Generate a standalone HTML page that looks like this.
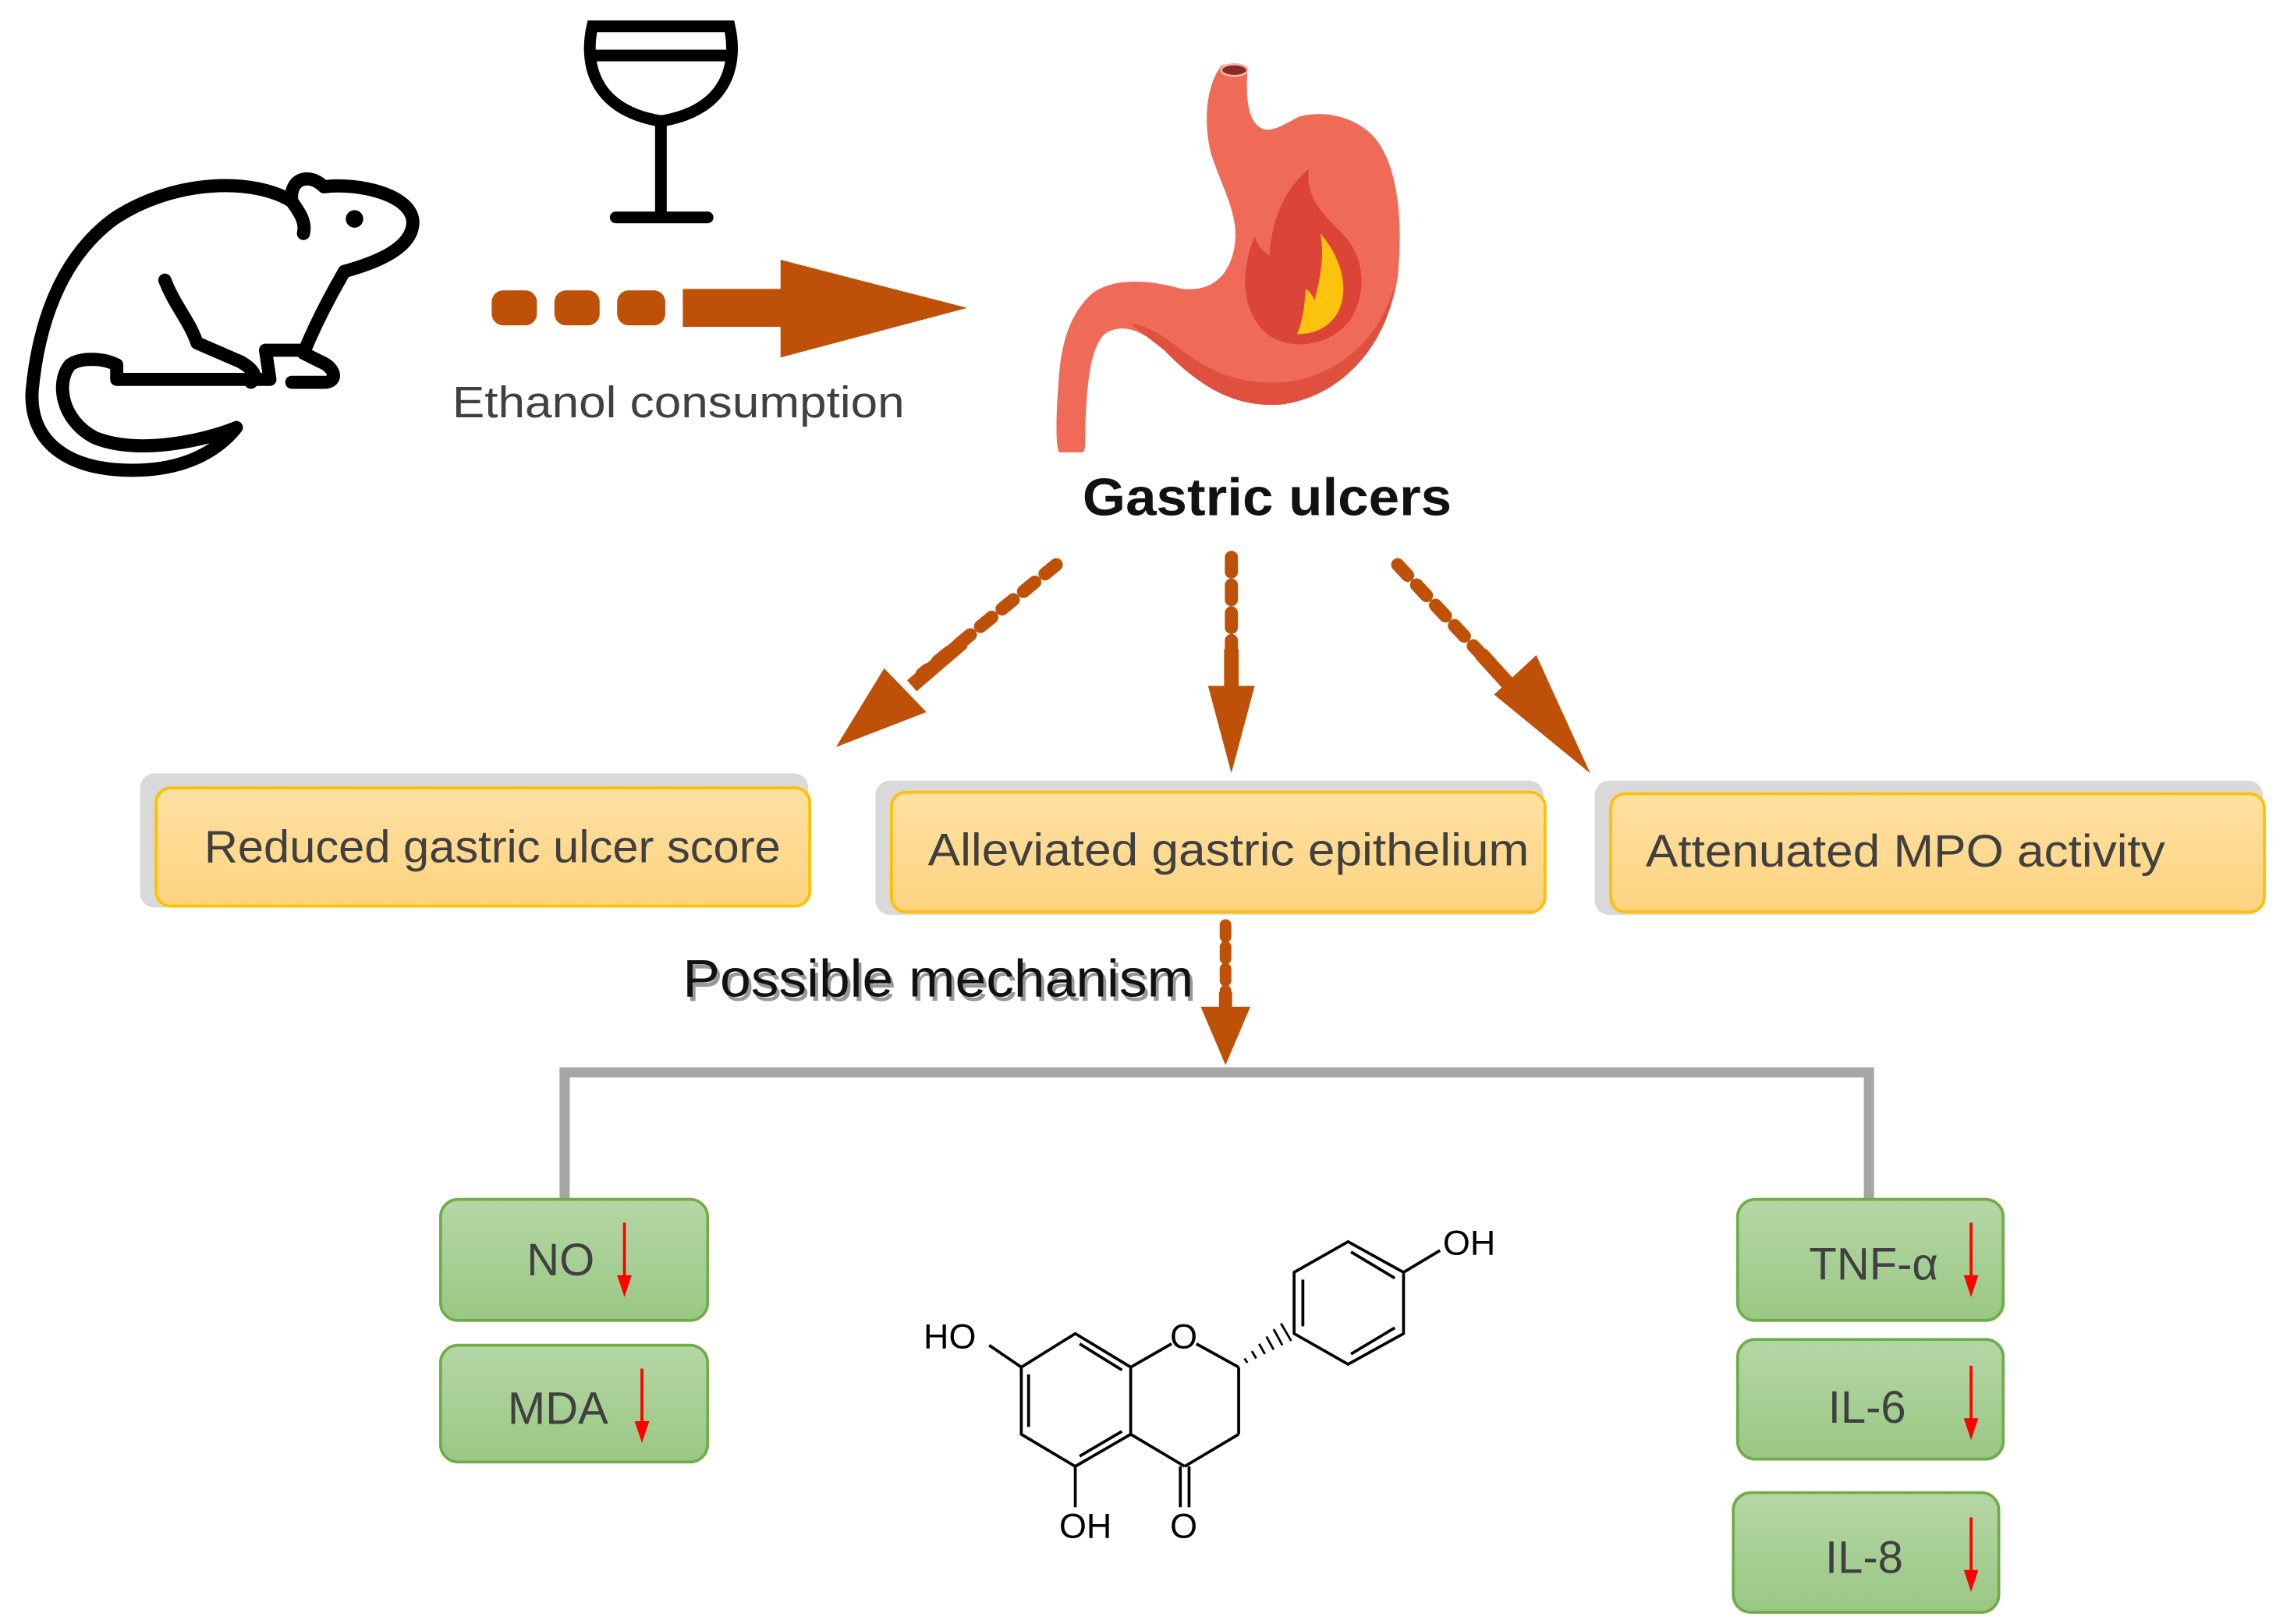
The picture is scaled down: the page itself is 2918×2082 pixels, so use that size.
<!DOCTYPE html>
<html><head><meta charset="utf-8"><style>
html,body{margin:0;padding:0;background:#fff;}
svg{display:block;}
text{font-family:"Liberation Sans",sans-serif;}
</style></head><body>
<svg width="2918" height="2082" viewBox="0 0 1560 1113" xmlns="http://www.w3.org/2000/svg">
<defs>
<linearGradient id="yg" x1="0" y1="0" x2="0" y2="1"><stop offset="0" stop-color="#ffe1a3"/><stop offset="1" stop-color="#fdd37f"/></linearGradient>
<linearGradient id="gg" x1="0" y1="0" x2="0" y2="1"><stop offset="0" stop-color="#b5d7a6"/><stop offset="1" stop-color="#9ac784"/></linearGradient>
</defs>
<rect width="1560" height="1113" fill="#fff"/>

<!-- Rat -->
<g fill="none" stroke="#000" stroke-width="9" stroke-linecap="round" stroke-linejoin="round">
<path d="M200,138 C175,122 120,122 78,150 C40,178 26,225 22,268 C20,305 50,325 100,322 C130,320 150,308 162,293 C140,302 95,312 65,300 C42,288 38,262 48,250 C55,245 70,245 80,250 L80,260 L185,260 L182,240 L205,240"/>
<path d="M200,138 C198,122 212,118 222,128 C245,125 282,133 283,152 C283,170 258,180 236,186 C225,205 215,225 208,242 L220,248 C230,252 232,262 222,262 L200,262"/>
<path d="M113,192 C120,210 130,220 135,235 L165,248 C172,252 178,258 172,262"/>
<path d="M200,138 C205,145 210,152 208,160"/>
</g>
<circle cx="243" cy="150" r="6" fill="#000"/>

<!-- Wine glass -->
<g fill="none" stroke="#000" stroke-width="8" stroke-linecap="round">
<path d="M406,18 L500,18 C505,40 502,75 453,83 C404,75 401,40 406,18 Z"/>
<line x1="406" y1="38" x2="500" y2="38"/>
<line x1="453" y1="83" x2="453" y2="148"/>
<line x1="422" y1="149" x2="485" y2="149"/>
</g>

<!-- Top arrow -->
<g fill="#bf5008">
<rect x="337" y="199" width="31" height="24" rx="8"/>
<rect x="380" y="199" width="31" height="24" rx="8"/>
<rect x="423" y="199" width="33" height="24" rx="8"/>
<rect x="468" y="198" width="70" height="26"/>
<polygon points="535,178 663,211 535,245"/>
</g>
<text x="310" y="286" font-size="30" fill="#404040" textLength="310" lengthAdjust="spacingAndGlyphs">Ethanol consumption</text>

<!-- Stomach -->
<path d="M837,45 C845,42 856,44 855,50 C854,65 855,80 862,86 C868,92 876,88 890,80 C905,76 925,78 940,92 C958,110 962,150 958,190 C952,230 925,270 880,277 C850,280 825,268 798,240 C785,228 770,220 757,229 C748,238 745,260 744,290 C744,305 744,309 742,310 L726,310 C723,305 724,280 726,256 C728,232 735,212 750,200 C765,190 790,192 810,198 C830,200 842,190 846,170 C850,148 838,130 830,105 C825,85 826,60 837,45 Z" fill="#f06a58"/>
<path d="M798,240 C825,268 850,280 880,277 C925,270 952,230 956,195 C945,235 915,258 880,262 C850,264 830,255 810,240 C795,228 783,222 775,222 Z" fill="#e0503f"/>
<ellipse cx="846" cy="48" rx="9" ry="4" fill="#8b2a2a" stroke="#f7b3a8" stroke-width="1.5"/>
<path d="M897,116 C880,130 872,150 870,175 C862,170 860,162 860,162 C850,185 850,215 870,230 C885,240 910,238 925,220 C938,200 935,175 920,160 C905,145 895,135 897,116 Z" fill="#dc4437"/>
<path d="M905,160 C918,175 925,195 918,212 C912,225 900,229 889,229 C893,220 894,210 895,198 C898,200 900,203 901,206 C905,190 908,175 905,160 Z" fill="#fbc20e"/>
<text x="742" y="353" font-size="36" font-weight="bold" fill="#111" textLength="253" lengthAdjust="spacingAndGlyphs">Gastric ulcers</text>

<!-- Three dashed arrows -->
<g stroke="#bf5008" stroke-width="9" stroke-linecap="round" fill="none" stroke-dasharray="10,9">
<line x1="724" y1="387" x2="632" y2="462"/>
<line x1="844" y1="382" x2="844" y2="468"/>
<line x1="958" y1="387" x2="1040" y2="475"/>
</g>
<g stroke="#bf5008" stroke-width="10" fill="none">
<line x1="660" y1="440" x2="625" y2="470"/>
<line x1="844" y1="445" x2="844" y2="475"/>
<line x1="1015" y1="448" x2="1035" y2="470"/>
</g>
<g fill="#bf5008">
<polygon points="573,512 606,458 635,488"/>
<polygon points="828,470 860,470 844,530"/>
<polygon points="1090,530 1024,476 1053,449"/>
</g>

<!-- Yellow boxes -->
<rect x="96" y="530" width="458" height="92" rx="10" fill="#d9d9d9"/>
<rect x="107" y="540" width="448" height="81" rx="10" fill="url(#yg)" stroke="#ffc000" stroke-width="2"/>
<text x="140" y="591" font-size="31" fill="#404040" textLength="395" lengthAdjust="spacingAndGlyphs">Reduced gastric ulcer score</text>
<rect x="600" y="535" width="458" height="92" rx="10" fill="#d9d9d9"/>
<rect x="611" y="543" width="448" height="82" rx="10" fill="url(#yg)" stroke="#ffc000" stroke-width="2"/>
<text x="636" y="593" font-size="31" fill="#404040" textLength="412" lengthAdjust="spacingAndGlyphs">Alleviated gastric epithelium</text>
<rect x="1093" y="535" width="458" height="92" rx="10" fill="#d9d9d9"/>
<rect x="1104" y="544" width="448" height="81" rx="10" fill="url(#yg)" stroke="#ffc000" stroke-width="2"/>
<text x="1128" y="594" font-size="31" fill="#404040" textLength="356" lengthAdjust="spacingAndGlyphs">Attenuated MPO activity</text>

<!-- Possible mechanism arrow -->
<line x1="840" y1="634" x2="840" y2="690" stroke="#bf5008" stroke-width="8" stroke-dasharray="8,7" stroke-linecap="round"/>
<line x1="840" y1="680" x2="840" y2="700" stroke="#bf5008" stroke-width="9"/>
<polygon points="823,690 857,690 840,730" fill="#bf5008"/>
<text x="470" y="686" font-size="36" fill="#999" textLength="350" lengthAdjust="spacingAndGlyphs">Possible mechanism</text>
<text x="468" y="683" font-size="36" fill="#111" textLength="350" lengthAdjust="spacingAndGlyphs">Possible mechanism</text>

<!-- Bracket -->
<polyline points="387,822 387,735 1281,735 1281,822" fill="none" stroke="#a6a6a6" stroke-width="7"/>

<!-- Green boxes -->
<g stroke="#70ad47" stroke-width="2" fill="url(#gg)">
<rect x="302" y="822" width="183" height="83" rx="12"/>
<rect x="302" y="922" width="183" height="80" rx="12"/>
<rect x="1191" y="822" width="182" height="83" rx="12"/>
<rect x="1191" y="918" width="182" height="82" rx="12"/>
<rect x="1188" y="1023" width="182" height="82" rx="12"/>
</g>
<g font-size="31" fill="#404040">
<text x="361" y="874">NO</text>
<text x="348" y="976">MDA</text>
<text x="1240" y="877">TNF-α</text>
<text x="1253" y="975">IL-6</text>
<text x="1251" y="1078">IL-8</text>
</g>
<g stroke="red" stroke-width="2">
<line x1="428" y1="838" x2="428" y2="878"/>
<line x1="440" y1="938" x2="440" y2="978"/>
<line x1="1351" y1="838" x2="1351" y2="878"/>
<line x1="1351" y1="936" x2="1351" y2="976"/>
<line x1="1351" y1="1040" x2="1351" y2="1080"/>
</g>
<g fill="red">
<polygon points="423,874 433,874 428,889"/>
<polygon points="435,974 445,974 440,989"/>
<polygon points="1346,874 1356,874 1351,889"/>
<polygon points="1346,972 1356,972 1351,987"/>
<polygon points="1346,1076 1356,1076 1351,1091"/>
</g>

<!-- Molecule -->
<g stroke="#000" stroke-width="2" fill="none">
<polygon points="737,914 775,937 775,983 737,1005 700,983 700,937"/>
<line x1="705" y1="942" x2="705" y2="978"/>
<line x1="740" y1="921" x2="769" y2="939"/>
<line x1="740" y1="998" x2="769" y2="981"/>
<line x1="775" y1="937" x2="803" y2="921"/>
<line x1="820" y1="921" x2="849" y2="937"/>
<line x1="849" y1="937" x2="849" y2="983"/>
<line x1="849" y1="983" x2="812" y2="1005"/>
<line x1="812" y1="1005" x2="775" y2="983"/>
<line x1="809" y1="1005" x2="809" y2="1033"/>
<line x1="815" y1="1005" x2="815" y2="1033"/>
<line x1="737" y1="1005" x2="737" y2="1033"/>
<line x1="700" y1="937" x2="678" y2="922"/>
<polygon points="887,914 887,872 924,851 962,872 962,914 924,935"/>
<line x1="893" y1="877" x2="893" y2="909"/>
<line x1="926" y1="858" x2="956" y2="876"/>
<line x1="926" y1="928" x2="956" y2="910"/>
<line x1="962" y1="872" x2="987" y2="857"/>
</g>
<g stroke="#000" stroke-width="1.5">
<line x1="855" y1="934" x2="853" y2="931"/>
<line x1="861" y1="931" x2="858" y2="926"/>
<line x1="867" y1="928" x2="863" y2="921"/>
<line x1="873" y1="925" x2="868" y2="916"/>
<line x1="879" y1="922" x2="873" y2="911"/>
<line x1="885" y1="919" x2="878" y2="907"/>
</g>
<g font-size="24" fill="#000">
<text x="633" y="924">HO</text>
<text x="802" y="924">O</text>
<text x="989" y="860">OH</text>
<text x="726" y="1054">OH</text>
<text x="802" y="1054">O</text>
</g>
</svg>
</body></html>
